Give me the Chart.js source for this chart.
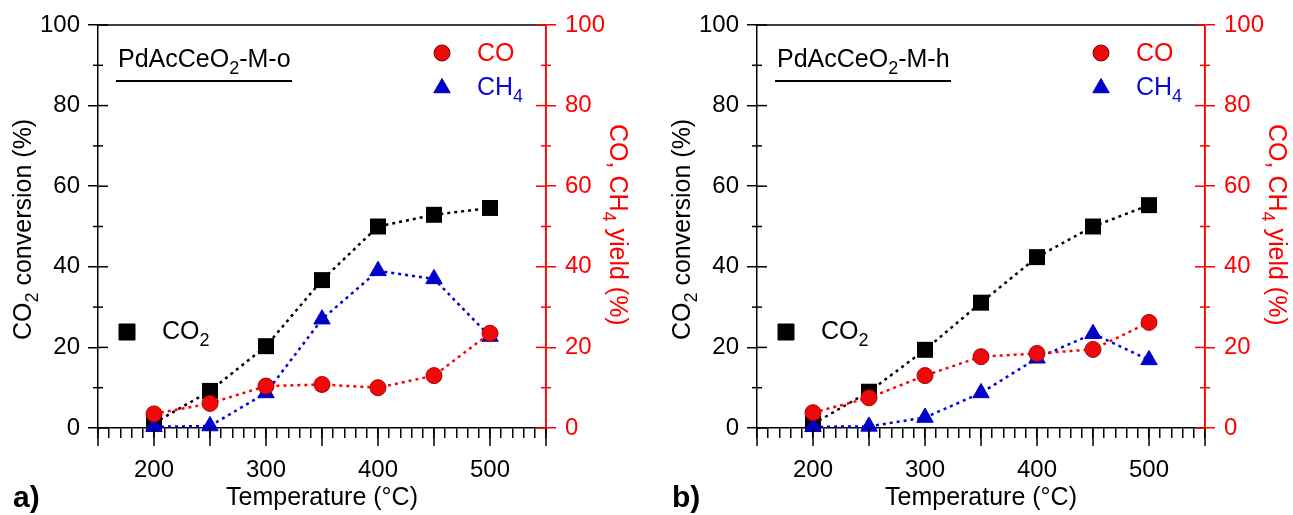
<!DOCTYPE html>
<html><head><meta charset="utf-8">
<script src="https://cdn.jsdelivr.net/npm/chart.js@4.4.0/dist/chart.umd.min.js"></script>
<style>
html,body{margin:0;padding:0;background:#fff;overflow:hidden}
#wrap{position:relative;width:1293px;height:515px;background:#fff}
.box{position:absolute;top:0;height:515px}
#boxA{left:0;width:646px}
#boxB{left:646px;width:647px}
canvas{display:block}
</style></head><body>
<div id="wrap">
<div class="box" id="boxA"><canvas id="cA" width="646" height="515"></canvas></div>
<div class="box" id="boxB"><canvas id="cB" width="647" height="515"></canvas></div>
</div>
<script>
// ---- data ----
const temperatures = [200, 250, 300, 350, 400, 450, 500];
const co2ConvA = [1.2, 9.2, 20.3, 36.7, 50.0, 52.9, 54.6];
const coYieldA = [3.5, 6.1, 10.4, 10.8, 10.0, 13.0, 23.5];
const ch4YieldA = [0.3, 0.5, 8.7, 27.0, 39.0, 37.0, 22.7];
const co2ConvB = [1.0, 9.0, 19.4, 31.1, 42.4, 50.0, 55.3];
const coYieldB = [3.8, 7.5, 13.0, 17.7, 18.5, 19.5, 26.2];
const ch4YieldB = [0.3, 0.4, 2.6, 8.7, 17.3, 23.4, 16.9];
const xTickLabels = [200, 300, 400, 500];
const yTickLabels = [0, 20, 40, 60, 80, 100];
const sampleNameA = [['PdAcCeO', 0], ['2', 1], ['-M-o', 0]];
const sampleNameB = [['PdAcCeO', 0], ['2', 1], ['-M-h', 0]];
const panelLabelA = 'a)';
const panelLabelB = 'b)';
const xTitle = 'Temperature (°C)';
const yTitleLeft = [['CO', 0], ['2', 1], [' conversion (%)', 0]];
const yTitleRight = [['CO, CH', 0], ['4', 1], [' yield (%)', 0]];
const legendCO = [['CO', 0]];
const legendCH4 = [['CH', 0], ['4', 1]];
const legendCO2 = [['CO', 0], ['2', 1]];

// ---- style ----
const FONT = '"Liberation Sans", Arial, Helvetica, sans-serif';
const FS = 25, TICKFS = 24, SUBFS = 18, SUBDY = 7;
const RED = '#ff0000', BLUE = '#0a0ad8', BLACK = '#000000';
const CO_FILL = '#ee0a0a', CH4_FILL = '#0000c8';

function drawRich(ctx, segs, x, y, color) {
  ctx.fillStyle = color;
  ctx.textBaseline = 'alphabetic';
  ctx.textAlign = 'left';
  let cx = x;
  for (const [t, sub] of segs) {
    ctx.font = (sub ? SUBFS : FS) + 'px ' + FONT;
    ctx.fillText(t, cx, y + (sub ? SUBDY : 0));
    cx += ctx.measureText(t).width;
  }
}
function marker(ctx, style, x, y, fill, stroke) {
  ctx.save();
  ctx.fillStyle = fill;
  ctx.strokeStyle = stroke;
  ctx.lineWidth = 1;
  ctx.beginPath();
  if (style === 'circle') {
    ctx.arc(x, y, 8, 0, Math.PI * 2);
  } else if (style === 'triangle') {
    const r = 9.5;
    ctx.moveTo(x, y - r);
    ctx.lineTo(x + r * Math.sin(2 * Math.PI / 3), y + r / 2);
    ctx.lineTo(x - r * Math.sin(2 * Math.PI / 3), y + r / 2);
    ctx.closePath();
  } else {
    ctx.rect(x - 8, y - 8, 16, 16);
  }
  ctx.fill();
  ctx.stroke();
  ctx.restore();
}

const decorPlugin = {
  id: 'decor',
  afterDraw(chart) {
    const p = chart.options.plugins.decor;
    const ctx = chart.ctx;
    const ca = chart.chartArea;
    const xs = chart.scales.x, y1 = chart.scales.y, y2 = chart.scales.y2;
    ctx.save();
    // top frame line
    ctx.strokeStyle = BLACK; ctx.lineWidth = 1.5;
    ctx.beginPath(); ctx.moveTo(ca.left, ca.top); ctx.lineTo(ca.right, ca.top); ctx.stroke();
    // long x ticks every 50
    for (let v = xs.min; v <= xs.max; v += 50) {
      const px = xs.getPixelForValue(v);
      ctx.beginPath(); ctx.moveTo(px, ca.bottom); ctx.lineTo(px, ca.bottom + 18); ctx.stroke();
    }
    // y ticks inside parts + minor ticks
    for (let v = 0; v <= 100; v += 10) {
      const major = v % 20 === 0;
      const py = y1.getPixelForValue(v);
      const inLen = major ? 10 : 5;
      ctx.strokeStyle = BLACK;
      ctx.beginPath();
      ctx.moveTo(ca.left + inLen, py);
      ctx.lineTo(major ? ca.left : ca.left - 5, py);
      ctx.stroke();
      const py2 = y2.getPixelForValue(v);
      ctx.strokeStyle = RED;
      ctx.beginPath();
      ctx.moveTo(ca.right - inLen, py2);
      ctx.lineTo(major ? ca.right : ca.right + 5, py2);
      ctx.stroke();
    }
    ctx.strokeStyle = RED;
    ctx.beginPath(); ctx.moveTo(ca.right, ca.top); ctx.lineTo(ca.right, ca.bottom); ctx.stroke();

    // sample name with underline
    drawRich(ctx, p.sample, ca.left + p.sampleDx, 67, BLACK);
    ctx.strokeStyle = BLACK; ctx.lineWidth = 2;
    ctx.beginPath(); ctx.moveTo(ca.left + p.sampleDx - 2, 81); ctx.lineTo(ca.left + p.sampleDx + 174, 81); ctx.stroke();

    // legend entries
    marker(ctx, 'circle', ca.left + 344, 53, CO_FILL, '#7a0000');
    drawRich(ctx, legendCO, ca.left + 379, 61, RED);
    marker(ctx, 'triangle', ca.left + 344, 88, CH4_FILL, CH4_FILL);
    drawRich(ctx, legendCH4, ca.left + 379, 95, BLUE);
    marker(ctx, 'rect', ca.left + 29, 332, BLACK, BLACK);
    drawRich(ctx, legendCO2, ca.left + 64, 339, BLACK);

    // left axis title (rotated)
    ctx.save();
    ctx.translate(ca.left - 67, 340);
    ctx.rotate(-Math.PI / 2);
    drawRich(ctx, yTitleLeft, 0, 0, BLACK);
    ctx.restore();
    // right axis title (rotated)
    ctx.save();
    ctx.translate(ca.right + 64, 124);
    ctx.rotate(Math.PI / 2);
    drawRich(ctx, yTitleRight, 0, 0, RED);
    ctx.restore();

    // panel label
    ctx.fillStyle = BLACK;
    ctx.font = 'bold 30px ' + FONT;
    ctx.textAlign = 'left'; ctx.textBaseline = 'alphabetic';
    ctx.fillText(p.label, ca.left - 85, 507);
    ctx.restore();
  }
};

function pts(vals) { return temperatures.map((t, i) => ({ x: t, y: vals[i] })); }

function makeChart(id, co2, co, ch4, sample, label, leftW, rightW) {
  const tickFont = { family: FONT, size: TICKFS };
  return new Chart(document.getElementById(id), {
    type: 'line',
    data: {
      datasets: [
        { label: 'CO', data: pts(co), yAxisID: 'y2', borderColor: RED, borderWidth: 2.5, borderDash: [3, 4],
          pointStyle: 'circle', pointRadius: 8, pointBackgroundColor: CO_FILL, pointBorderColor: '#b00000', pointBorderWidth: 1, clip: false },
        { label: 'CH4', data: pts(ch4), yAxisID: 'y2', borderColor: '#0000e0', borderWidth: 2.5, borderDash: [3, 4],
          pointStyle: 'triangle', pointRadius: 9.5, pointBackgroundColor: CH4_FILL, pointBorderColor: CH4_FILL, pointBorderWidth: 1, clip: false },
        { label: 'CO2', data: pts(co2), yAxisID: 'y', borderColor: BLACK, borderWidth: 2.5, borderDash: [3, 4],
          pointStyle: 'rect', pointRadius: 11.3, pointBackgroundColor: BLACK, pointBorderColor: BLACK, pointBorderWidth: 0, clip: false }
      ]
    },
    options: {
      responsive: false,
      animation: false,
      devicePixelRatio: 1,
      layout: { padding: { top: 25, left: 0, right: 0, bottom: 0 } },
      plugins: {
        legend: { display: false },
        tooltip: { enabled: false },
        decor: { sample: sample, label: label, sampleDx: 20 }
      },
      scales: {
        x: {
          type: 'linear', position: 'bottom', min: 150, max: 550,
          afterFit: s => { s.height = 87; },
          ticks: {
            stepSize: 10, autoSkip: false, maxRotation: 0, minRotation: 0,
            font: tickFont, color: BLACK, padding: 18,
            callback: v => xTickLabels.includes(Math.round(v)) ? String(Math.round(v)) : ''
          },
          grid: { drawOnChartArea: false, drawTicks: true, tickLength: 10, color: BLACK, lineWidth: 1.5 },
          border: { display: true, color: BLACK, width: 1.5 },
          title: { display: true, text: xTitle, font: { family: FONT, size: FS }, color: BLACK, padding: { top: 0, bottom: 2 } }
        },
        y: {
          type: 'linear', position: 'left', min: 0, max: 100,
          afterFit: s => { s.width = leftW; },
          ticks: {
            stepSize: 20, font: tickFont, color: BLACK, padding: 8,
            callback: v => yTickLabels.includes(v) ? String(v) : ''
          },
          grid: { drawOnChartArea: false, drawTicks: true, tickLength: 10, color: BLACK, lineWidth: 1.5 },
          border: { display: true, color: BLACK, width: 1.5 }
        },
        y2: {
          type: 'linear', position: 'right', min: 0, max: 100,
          afterFit: s => { s.width = rightW; },
          ticks: {
            stepSize: 20, font: tickFont, color: RED, padding: 9,
            callback: v => yTickLabels.includes(v) ? String(v) : ''
          },
          grid: { drawOnChartArea: false, drawTicks: true, tickLength: 10, color: RED, lineWidth: 1.5 },
          border: { display: true, color: RED, width: 1.5 }
        }
      }
    },
    plugins: [decorPlugin]
  });
}

makeChart('cA', co2ConvA, coYieldA, ch4YieldA, sampleNameA, panelLabelA, 98, 100);
makeChart('cB', co2ConvB, coYieldB, ch4YieldB, sampleNameB, panelLabelB, 111, 88);
</script>
</body></html>
